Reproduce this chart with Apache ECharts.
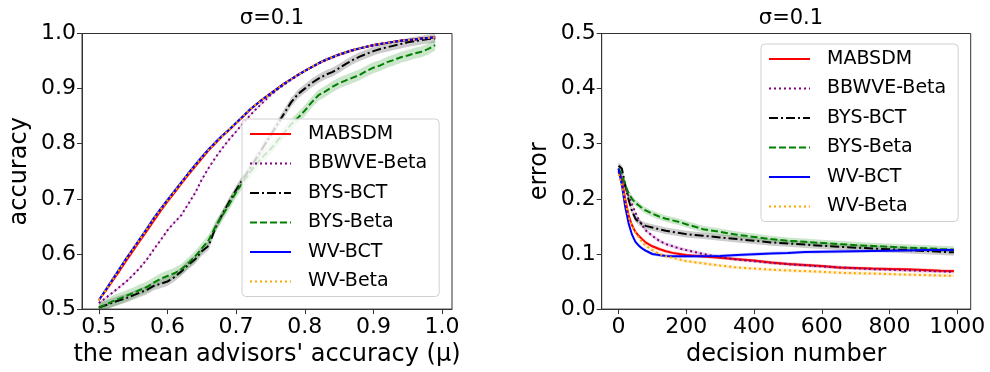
<!DOCTYPE html>
<html>
<head>
<meta charset="utf-8">
<script src="https://cdn.jsdelivr.net/npm/echarts@6/dist/echarts.min.js"></script>
<style>html,body{margin:0;padding:0;background:#fff;}#c{width:990px;height:372px;}</style>
</head>
<body>
<div id="c"></div>
<script>
// ---------- Left panel: accuracy vs mean advisors' accuracy ----------
const mu = [0.50,0.51,0.52,0.53,0.54,0.55,0.56,0.57,0.58,0.59,0.60,0.61,0.62,0.63,0.64,0.65,0.66,0.67,0.68,0.69,0.70,0.71,0.72,0.73,0.74,0.75,0.76,0.77,0.78,0.79,0.80,0.81,0.82,0.83,0.84,0.85,0.86,0.87,0.88,0.89,0.90,0.91,0.92,0.93,0.94,0.95,0.96,0.97,0.98,0.99];
const accMABSDM = [0.516,0.533,0.551,0.569,0.588,0.606,0.624,0.642,0.660,0.678,0.695,0.711,0.727,0.743,0.758,0.773,0.788,0.801,0.814,0.825,0.837,0.849,0.861,0.872,0.882,0.891,0.900,0.909,0.917,0.925,0.932,0.939,0.946,0.952,0.957,0.962,0.966,0.970,0.973,0.976,0.979,0.981,0.983,0.985,0.987,0.988,0.989,0.991,0.992,0.993];
const accBBWVE = [0.511,0.520,0.530,0.540,0.550,0.562,0.575,0.590,0.608,0.625,0.643,0.657,0.670,0.690,0.710,0.735,0.756,0.775,0.792,0.808,0.822,0.837,0.851,0.864,0.876,0.888,0.898,0.907,0.916,0.924,0.932,0.939,0.945,0.951,0.956,0.961,0.965,0.969,0.973,0.976,0.978,0.981,0.983,0.985,0.987,0.988,0.989,0.991,0.992,0.993];
const accBYSBCT = [0.503,0.507,0.512,0.516,0.520,0.525,0.530,0.535,0.542,0.546,0.550,0.558,0.568,0.580,0.590,0.605,0.615,0.648,0.672,0.695,0.716,0.736,0.755,0.775,0.795,0.815,0.835,0.855,0.875,0.890,0.900,0.910,0.918,0.925,0.930,0.937,0.945,0.952,0.958,0.963,0.968,0.972,0.975,0.978,0.981,0.984,0.986,0.988,0.990,0.991];
const accBYSBeta = [0.503,0.508,0.514,0.519,0.524,0.529,0.535,0.540,0.548,0.555,0.560,0.565,0.572,0.583,0.595,0.610,0.625,0.650,0.670,0.690,0.712,0.730,0.748,0.763,0.778,0.790,0.805,0.820,0.835,0.847,0.860,0.875,0.888,0.895,0.903,0.910,0.915,0.920,0.925,0.932,0.938,0.942,0.948,0.952,0.957,0.960,0.964,0.967,0.972,0.979];
const accWVBCT = [0.516,0.535,0.554,0.573,0.592,0.610,0.628,0.646,0.665,0.682,0.698,0.714,0.730,0.746,0.761,0.776,0.790,0.803,0.815,0.826,0.838,0.850,0.862,0.872,0.882,0.891,0.900,0.909,0.917,0.925,0.932,0.939,0.946,0.952,0.957,0.962,0.966,0.970,0.973,0.976,0.979,0.981,0.983,0.985,0.987,0.988,0.989,0.991,0.992,0.993];
const accWVBeta = [0.516,0.534,0.553,0.572,0.591,0.609,0.627,0.645,0.664,0.681,0.697,0.713,0.729,0.745,0.760,0.775,0.789,0.802,0.814,0.826,0.838,0.850,0.862,0.872,0.882,0.891,0.900,0.909,0.917,0.925,0.932,0.939,0.946,0.952,0.957,0.962,0.966,0.970,0.973,0.976,0.979,0.981,0.983,0.985,0.987,0.988,0.989,0.991,0.992,0.993];
const accBandHalf = {MABSDM:0.002, 'BBWVE-Beta':0.002, 'BYS-BCT':0.008, 'BYS-Beta':0.010, 'WV-BCT':0.002, 'WV-Beta':0.002};
const leftXTicks = [0.5,0.6,0.7,0.8,0.9,1.0];

// ---------- Right panel: error vs decision number ----------
const decisions = [0,10,20,30,40,50,60,70,80,100,120,140,160,180,200,250,300,350,400,450,500,550,600,650,700,750,800,850,900,950,990];
const errMABSDM = [0.250,0.235,0.200,0.170,0.152,0.140,0.133,0.127,0.121,0.114,0.109,0.105,0.102,0.100,0.098,0.0955,0.093,0.0905,0.088,0.0845,0.082,0.080,0.078,0.0755,0.0745,0.0735,0.0728,0.0722,0.071,0.0698,0.069];
const errBBWVE = [0.250,0.238,0.220,0.205,0.190,0.175,0.162,0.152,0.143,0.133,0.124,0.118,0.114,0.110,0.107,0.100,0.094,0.090,0.087,0.084,0.0815,0.0795,0.0775,0.0755,0.074,0.0725,0.0715,0.0705,0.0695,0.0685,0.0675];
const errBYSBCT = [0.260,0.255,0.225,0.198,0.178,0.164,0.158,0.154,0.151,0.148,0.145,0.142,0.140,0.138,0.136,0.133,0.130,0.127,0.124,0.121,0.119,0.117,0.115,0.113,0.1115,0.110,0.1085,0.107,0.1055,0.104,0.103];
const errBYSBeta = [0.255,0.245,0.225,0.210,0.200,0.193,0.188,0.183,0.179,0.173,0.168,0.164,0.161,0.158,0.154,0.145,0.140,0.135,0.131,0.127,0.124,0.122,0.120,0.118,0.116,0.1145,0.113,0.1115,0.1105,0.109,0.108];
const errWVBCT = [0.255,0.225,0.185,0.155,0.135,0.122,0.115,0.110,0.106,0.100,0.098,0.0965,0.096,0.0958,0.0958,0.096,0.0965,0.098,0.0995,0.101,0.102,0.1035,0.104,0.1045,0.105,0.1055,0.106,0.1065,0.107,0.107,0.107];
const errWVBeta = [0.245,0.225,0.195,0.168,0.150,0.139,0.130,0.121,0.115,0.107,0.100,0.096,0.093,0.090,0.087,0.083,0.079,0.0755,0.0735,0.0715,0.070,0.069,0.0675,0.066,0.065,0.0645,0.0635,0.0625,0.0618,0.061,0.0603];
const errBandHalf = {MABSDM:0.003, 'BBWVE-Beta':0.003, 'BYS-BCT':0.006, 'BYS-Beta':0.006, 'WV-BCT':0.003, 'WV-Beta':0.003};
const rightXTicks = [0,200,400,600,800,1000];

const names = ['MABSDM','BBWVE-Beta','BYS-BCT','BYS-Beta','WV-BCT','WV-Beta'];
const styles = {
  'MABSDM':     {color:'#ff0000', type:'solid', band:'rgba(255,0,0,0.2)'},
  'BBWVE-Beta': {color:'#800080', type:[2,3], band:'rgba(128,0,128,0.2)'},
  'BYS-BCT':    {color:'#000000', type:[9,3,2,3], band:'rgba(0,0,0,0.2)'},
  'BYS-Beta':   {color:'#008000', type:[7,3], band:'rgba(0,128,0,0.2)'},
  'WV-BCT':     {color:'#0000ff', type:'solid', band:'rgba(0,0,255,0.2)'},
  'WV-Beta':    {color:'#ffa500', type:[2,3], band:'rgba(255,165,0,0.2)'}
};
const leftData = {'MABSDM':accMABSDM,'BBWVE-Beta':accBBWVE,'BYS-BCT':accBYSBCT,'BYS-Beta':accBYSBeta,'WV-BCT':accWVBCT,'WV-Beta':accWVBeta};
const rightData = {'MABSDM':errMABSDM,'BBWVE-Beta':errBBWVE,'BYS-BCT':errBYSBCT,'BYS-Beta':errBYSBeta,'WV-BCT':errWVBCT,'WV-Beta':errWVBeta};

const FONT = 'DejaVu Sans';
const series = [];
function bandSeries(xs, ys, hw, color, idx) {
  const rows = xs.map((x,i)=>[x, ys[i]-hw, ys[i]+hw]);
  return {type:'custom', xAxisIndex:idx, yAxisIndex:idx, silent:true, z:1, clip:true,
    data: rows,
    encode:{x:0, y:[1,2]},
    renderItem: function(params, api) {
      if (params.dataIndex !== 0) return null;
      const top = rows.map(r => api.coord([r[0], r[2]]));
      const bot = rows.map(r => api.coord([r[0], r[1]])).reverse();
      const cs = params.coordSys;
      return {type:'polygon', shape:{points: top.concat(bot)}, style:{fill:color, stroke:'none'},
        clipPath:{type:'rect', shape:{x:cs.x, y:cs.y, width:cs.width, height:cs.height}}};
    }};
}
function addPanel(xs, dataMap, bandMap, idx) {
  names.forEach(n => series.push(bandSeries(xs, dataMap[n], bandMap[n], styles[n].band, idx)));
  names.forEach(n => {
    const ys = dataMap[n];
    series.push({name:n, type:'line', xAxisIndex:idx, yAxisIndex:idx, symbol:'none',
      data: xs.map((x,i)=>[x, ys[i]]),
      lineStyle:{color:styles[n].color, width:2, type:styles[n].type}, itemStyle:{color:styles[n].color}, z:3});
  });
}
addPanel(mu, leftData, accBandHalf, 0);
addPanel(decisions, rightData, errBandHalf, 1);

const axisCommon = {
  axisLine:{show:true, onZero:false, lineStyle:{color:'#333', width:1}},
  axisTick:{show:true, inside:false, length:5, lineStyle:{color:'#333'}},
  splitLine:{show:false},
  axisLabel:{color:'#000', fontSize:22, fontFamily:FONT},
  nameTextStyle:{color:'#000', fontSize:24, fontFamily:FONT},
  nameLocation:'middle'
};
function legendFor(left, top) {
  return {left:left, top:top, orient:'vertical', data:names, itemWidth:41, itemHeight:14, itemGap:9.5,
    padding:[5,12,5,7], backgroundColor:'rgba(255,255,255,0.8)', borderColor:'#d0d0d0', borderWidth:1, borderRadius:4,
    itemStyle:{opacity:0},
    textStyle:{color:'#000', fontSize:19, fontFamily:FONT, lineHeight:20, padding:[0,0,0,12]}, selectedMode:false, z:10};
}

const chart = echarts.init(document.getElementById('c'), null, {renderer:'canvas'});
chart.setOption({
  animation:false,
  title:[
    {text:'σ=0.1', left:267, top:3, textAlign:'center', textStyle:{fontSize:21, fontWeight:'normal', color:'#000', fontFamily:FONT}},
    {text:'σ=0.1', left:786, top:3, textAlign:'center', textStyle:{fontSize:21, fontWeight:'normal', color:'#000', fontFamily:FONT}}
  ],
  grid:[
    {left:82, top:33.5, width:370, height:277, show:true, borderColor:'#333', borderWidth:1, containLabel:false},
    {left:601.7, top:33.5, width:369, height:276.5, show:true, borderColor:'#333', borderWidth:1, containLabel:false}
  ],
  legend:[legendFor(242,119), legendFor(761,44)],
  xAxis:[
    Object.assign({}, axisCommon, {type:'value', gridIndex:0, min:0.4755, max:1.0145, name:"the mean advisors' accuracy (μ)", nameGap:33,
      axisTick:Object.assign({}, axisCommon.axisTick, {customValues:leftXTicks}),
      axisLabel:Object.assign({}, axisCommon.axisLabel, {customValues:leftXTicks, margin:7, formatter:v=>v.toFixed(1)})}),
    Object.assign({}, axisCommon, {type:'value', gridIndex:1, min:-49.5, max:1039.5, name:'decision number', nameGap:33,
      axisTick:Object.assign({}, axisCommon.axisTick, {customValues:rightXTicks}),
      axisLabel:Object.assign({}, axisCommon.axisLabel, {customValues:rightXTicks, margin:7, formatter:v=>String(Math.round(v))})})
  ],
  yAxis:[
    Object.assign({}, axisCommon, {type:'value', gridIndex:0, min:0.5, max:1.0, interval:0.1, name:'accuracy', nameGap:50,
      axisLabel:Object.assign({}, axisCommon.axisLabel, {margin:6, formatter:v=>v.toFixed(1)})}),
    Object.assign({}, axisCommon, {type:'value', gridIndex:1, min:0, max:0.5, interval:0.1, name:'error', nameGap:50,
      axisLabel:Object.assign({}, axisCommon.axisLabel, {margin:6, formatter:v=>v.toFixed(1)})})
  ],
  series:series
});
</script>
</body>
</html>
